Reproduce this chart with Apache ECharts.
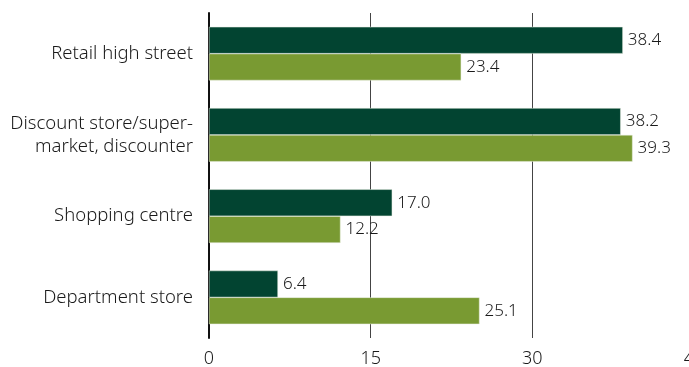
<!DOCTYPE html>
<html>
<head>
<meta charset="utf-8">
<script src="https://cdn.jsdelivr.net/npm/echarts@6/dist/echarts.min.js"></script>
<style>
  html, body { margin: 0; padding: 0; background: #fff; }
  #chart { width: 689px; height: 367px; }
</style>
</head>
<body>
<div id="chart"></div>
<script>
  var categories = ['Retail high street', 'Discount store/super-\nmarket, discounter', 'Shopping centre', 'Department store'];
  var darkValues = [38.4, 38.2, 17.0, 6.4];
  var lightValues = [23.4, 39.3, 12.2, 25.1];
  var tickValues = [0, 15, 30, 45];

  var font = '"Noto Sans", sans-serif';
  var myChart = echarts.init(document.getElementById('chart'));

  function barLabel () {
    return {
      show: true,
      position: 'right',
      distance: 5,
      color: '#1a1a1a',
      fontSize: 17,
      fontWeight: 300,
      fontFamily: font,
      formatter: function (p) { return p.value.toFixed(1); }
    };
  }

  myChart.setOption({
    animation: false,
    grid: { left: 209, right: -5, top: 13, bottom: 29, containLabel: false, outerBoundsMode: 'none' },
    xAxis: {
      type: 'value',
      min: tickValues[0],
      max: tickValues[tickValues.length - 1],
      interval: 15,
      axisLine: { show: false },
      axisTick: { show: false },
      splitLine: { show: true, lineStyle: { color: '#444', width: 1 } },
      axisLabel: { color: '#1a1a1a', fontSize: 18, fontWeight: 300, fontFamily: font, margin: 12 }
    },
    yAxis: {
      type: 'category',
      inverse: true,
      data: categories,
      axisLine: { show: true, lineStyle: { color: '#111', width: 2 } },
      axisTick: { show: false },
      axisLabel: { color: '#1a1a1a', fontSize: 18.5, fontWeight: 300, fontFamily: font, margin: 16, align: 'right', lineHeight: 23 }
    },
    series: [
      {
        name: 'Dark',
        type: 'bar',
        data: darkValues,
        barWidth: '33%',
        barGap: '0%',
        itemStyle: { color: '#024431', borderColor: '#e8ece0', borderWidth: 0.5 },
        label: barLabel()
      },
      {
        name: 'Light',
        type: 'bar',
        data: lightValues,
        barWidth: '33%',
        itemStyle: { color: '#799a32', borderColor: '#e8ece0', borderWidth: 0.5 },
        label: barLabel()
      }
    ]
  });
</script>
</body>
</html>
